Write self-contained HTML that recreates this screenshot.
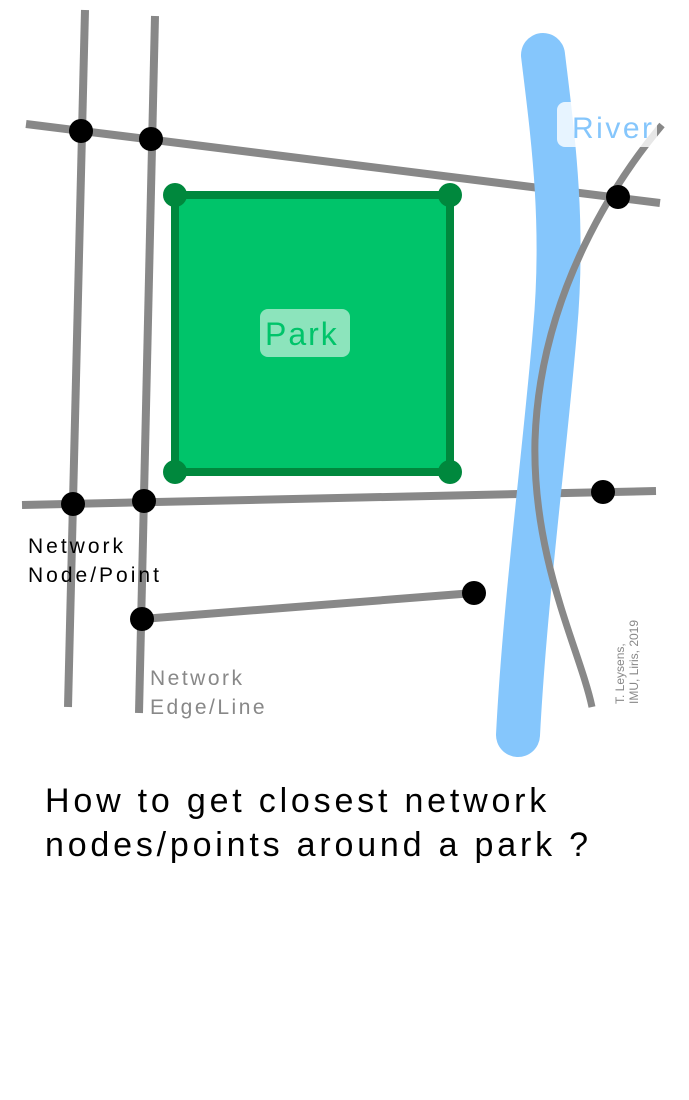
<!DOCTYPE html>
<html><head><meta charset="utf-8"><style>html,body{margin:0;padding:0;background:#fff}svg{display:block}text{font-family:"Liberation Sans",sans-serif}</style></head>
<body>
<svg width="689" height="1100" viewBox="0 0 689 1100" xmlns="http://www.w3.org/2000/svg">
<g stroke="#888" stroke-width="8" fill="none" stroke-linecap="butt">
<line x1="85" y1="10" x2="68" y2="707"/>
<line x1="155" y1="16" x2="139" y2="713"/>
<line x1="26" y1="124" x2="660" y2="203"/>
<line x1="22" y1="505" x2="656" y2="491"/>
<line x1="142" y1="619" x2="474" y2="593"/>
</g>
<path d="M543,55 C552,130 565,220 555,330 C545,450 525,600 518,735" stroke="#85c6fc" stroke-width="44" fill="none" stroke-linecap="round"/>
<path d="M662,125 C620,175 540,290 535,440 C532,560 580,650 592,707" stroke="#888" stroke-width="7" fill="none"/>
<rect x="557" y="102" width="100" height="45" rx="8" fill="#fff" opacity="0.8"/>
<text x="572" y="138" font-size="30" letter-spacing="2.5" fill="#85c6fc">River</text>
<rect x="175" y="195" width="275" height="277" fill="#00c46a" stroke="#00883d" stroke-width="8"/>
<g fill="#00883d"><circle cx="175" cy="195" r="12"/><circle cx="450" cy="195" r="12"/><circle cx="175" cy="472" r="12"/><circle cx="450" cy="472" r="12"/></g>
<rect x="260" y="309" width="90" height="48" rx="8" fill="#fff" opacity="0.55"/>
<text x="265" y="345" font-size="32" letter-spacing="2" fill="#00c46a">Park</text>
<g fill="#000"><circle cx="81" cy="131" r="12"/><circle cx="151" cy="139" r="12"/><circle cx="618" cy="197" r="12"/><circle cx="73" cy="504" r="12"/><circle cx="144" cy="501" r="12"/><circle cx="603" cy="492" r="12"/><circle cx="142" cy="619" r="12"/><circle cx="474" cy="593" r="12"/></g>
<text x="28" y="553" font-size="21" letter-spacing="3" fill="#000">Network</text>
<text x="28" y="582" font-size="21" letter-spacing="3" fill="#000">Node/Point</text>
<text x="150" y="685" font-size="21" letter-spacing="2.5" fill="#888">Network</text>
<text x="150" y="714" font-size="21" letter-spacing="2.5" fill="#888">Edge/Line</text>
<text x="45" y="812" font-size="34" letter-spacing="3.8" fill="#000">How to get closest network</text>
<text x="45" y="856" font-size="34" letter-spacing="3.8" fill="#000">nodes/points around a park ?</text>
<text transform="translate(624,704) rotate(-90)" font-size="12" fill="#888">T. Leysens,</text>
<text transform="translate(638,704) rotate(-90)" font-size="12" fill="#888">IMU, Liris, 2019</text>
</svg>
</body></html>
